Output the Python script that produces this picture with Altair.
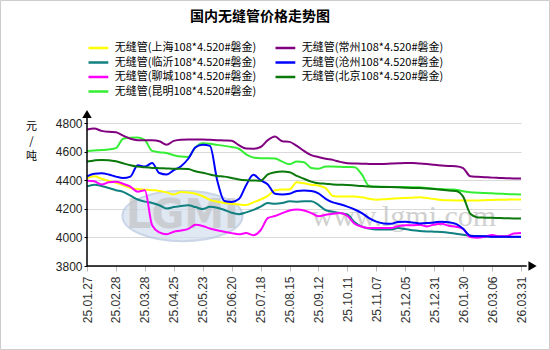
import altair as alt
import pandas as pd

# ---------------- data ----------------
tick_labels = ["25.01.27", "25.02.28", "25.03.28", "25.04.25", "25.05.23", "25.06.20",
               "25.07.18", "25.08.15", "25.09.12", "25.10.11", "25.11.07", "25.12.05",
               "25.12.31", "26.01.30", "26.03.06", "26.03.31"]

series_names = ["无缝管(上海108*4.520#磐金)", "无缝管(临沂108*4.520#磐金)",
                "无缝管(聊城108*4.520#磐金)", "无缝管(昆明108*4.520#磐金)",
                "无缝管(常州108*4.520#磐金)", "无缝管(沧州108*4.520#磐金)",
                "无缝管(北京108*4.520#磐金)"]
series_colors = ["#ffff00", "#108080", "#ff00ff", "#33ee33", "#800080", "#0000ff", "#0a780a"]

shanghai = [4415, 4427, 4410, 4395, 4382, 4365, 4345, 4338, 4334, 4330,
            4325, 4315, 4300, 4318, 4314, 4305, 4288, 4262, 4250, 4240,
            4235, 4230, 4226, 4245, 4265, 4290, 4330, 4335, 4335, 4385,
            4378, 4368, 4362, 4345, 4290, 4286, 4286, 4286, 4280, 4270,
            4264, 4266, 4270, 4274, 4276, 4278, 4280, 4275, 4268, 4262,
            4259, 4258, 4258, 4258, 4258, 4260, 4262, 4263, 4264, 4265, 4265]
linyi = [4357, 4368, 4360, 4345, 4330, 4318, 4292, 4265, 4250, 4241,
         4225, 4202, 4212, 4220, 4224, 4212, 4198, 4215, 4208, 4192,
         4172, 4162, 4175, 4192, 4215, 4240, 4235, 4240, 4252, 4250,
         4252, 4252, 4228, 4190, 4180, 4170, 4160, 4105, 4075, 4062,
         4056, 4056, 4056, 4065, 4058, 4050, 4045, 4042, 4040, 4038,
         4033, 4025, 4018, 4012, 4010, 4008, 4006, 4005, 4004, 4003, 4003]
liaocheng = [4397, 4392, 4370, 4385, 4390, 4375, 4355, 4320, 4330, 4085,
             4035, 4022, 4040, 4048, 4060, 4088, 4080, 4062, 4050, 4040,
             4030, 4022, 4030, 4015, 4050, 4135, 4150, 4170, 4188, 4195,
             4188, 4170, 4148, 4158, 4165, 4170, 4150, 4095, 4075, 4066,
             4065, 4065, 4065, 4078, 4085, 4085, 4088, 4077, 4090, 4095,
             4082, 4075, 4060, 4002, 3998, 4005, 4016, 4008, 4008, 4028, 4030]
kunming = [4605, 4608, 4611, 4615, 4624, 4690, 4697, 4698, 4680, 4605,
           4596, 4590, 4575, 4565, 4562, 4630, 4659, 4655, 4647, 4640,
           4632, 4620, 4580, 4558, 4554, 4554, 4552, 4530, 4512, 4530,
           4525, 4485, 4480, 4495, 4496, 4494, 4492, 4490, 4440, 4360,
           4355, 4354, 4353, 4352, 4352, 4351, 4350, 4345, 4340, 4338,
           4335, 4334, 4322, 4316, 4313, 4310, 4308, 4306, 4303, 4301, 4300]
changzhou = [4755, 4762, 4745, 4738, 4735, 4712, 4690, 4680, 4680, 4679,
             4672, 4648, 4675, 4683, 4684, 4684, 4684, 4682, 4680, 4678,
             4676, 4645, 4621, 4620, 4632, 4680, 4705, 4672, 4668, 4640,
             4605, 4575, 4562, 4550, 4542, 4528, 4519, 4517, 4515, 4514,
             4513, 4514, 4516, 4518, 4520, 4520, 4516, 4514, 4508, 4503,
             4500, 4498, 4485, 4427, 4424, 4421, 4418, 4416, 4414, 4412, 4411]
cangzhou = [4427, 4445, 4448, 4440, 4425, 4415, 4425, 4505, 4495, 4520,
            4450, 4440, 4470, 4498, 4550, 4630, 4648, 4640, 4400, 4255,
            4248, 4268, 4365, 4438, 4400, 4370, 4305, 4300, 4305, 4325,
            4328, 4325, 4308, 4270, 4245, 4232, 4215, 4195, 4170, 4135,
            4110, 4098, 4095, 4108, 4110, 4105, 4098, 4100, 4105, 4110,
            4106, 4095, 4060, 4012, 4008, 4008, 4005, 4005, 4005, 4005, 4005]
beijing = [4531, 4538, 4542, 4540, 4532, 4518, 4505, 4495, 4490, 4486,
           4484, 4482, 4480, 4480, 4478, 4462, 4452, 4440, 4430, 4425,
           4415, 4405, 4400, 4398, 4396, 4440, 4455, 4460, 4455, 4430,
           4410, 4390, 4378, 4375, 4370, 4368, 4366, 4363, 4360, 4356,
           4354, 4353, 4352, 4350, 4348, 4346, 4345, 4342, 4338, 4333,
           4328, 4325, 4285, 4165, 4140, 4138, 4137, 4135, 4134, 4133, 4133]

all_series = [shanghai, linyi, liaocheng, kunming, changzhou, cangzhou, beijing]

rows = []
for name, vals in zip(series_names, all_series):
    for i, v in enumerate(vals):
        rows.append({"idx": i, "price": v, "name": name})
df = pd.DataFrame(rows)

y_ticks = [3800, 4000, 4200, 4400, 4600, 4800]
x_ticks = list(range(0, 61, 4))
label_expr = "[" + ",".join("'%s'" % t for t in tick_labels) + "][round(datum.value/4)]"

FONT = "Liberation Sans"
CJK = "Noto Sans CJK SC"

xs = alt.Scale(domain=[0, 60], nice=False, zero=False)
ys = alt.Scale(domain=[3800, 4800], nice=False, zero=False)

x_axis = alt.Axis(values=x_ticks, tickCount=len(x_ticks), labelExpr=label_expr, labelAngle=270,
                  labelFontSize=12, labelColor="#333333",
                  labelPadding=5, tickSize=5, tickColor="#bbbbbb",
                  grid=False, title=None)
y_axis = alt.Axis(values=y_ticks, tickCount=len(y_ticks), format="d", labelFontSize=12,
                  labelColor="#222222", labelPadding=2, tickSize=3,
                  tickColor="#000000", grid=True,
                  gridColor="#d9d9d9", title=["元", "/", "吨"],
                  titleAngle=0, titleFont=CJK, titleFontSize=11,
                  titleFontWeight="normal", titleColor="#000000",
                  titleX=-56, titleY=-3, titleAlign="center",
                  titleBaseline="top", titleLineHeight=15)

# watermark
logo = alt.Chart(pd.DataFrame({"idx": [13.2], "price": [4150]})).mark_point(
    shape="M-1,0A1,0.42,0,1,1,1,0A1,0.42,0,1,1,-1,0Z", size=14400,
    filled=True, fill="#d3dfee", stroke="#b4c6de", strokeWidth=2, opacity=0.7
).encode(x=alt.X("idx:Q", scale=xs, axis=x_axis), y=alt.Y("price:Q", scale=ys, axis=y_axis))
logo_text = alt.Chart(pd.DataFrame({"t": ["LGMI"], "idx": [13.2], "price": [4150]})).mark_text(
    font="DejaVu Sans", fontSize=40, fontWeight="bold", color="#bdbdbd", opacity=0.6
).encode(x=alt.X("idx:Q", scale=xs), y=alt.Y("price:Q", scale=ys), text="t:N")
site_text = alt.Chart(pd.DataFrame({"t": ["www.lgmi.com"], "idx": [43.8], "price": [4140]})).mark_text(
    font="Liberation Serif", fontSize=30, color="#cccccc", opacity=0.9
).encode(x=alt.X("idx:Q", scale=xs), y=alt.Y("price:Q", scale=ys), text="t:N")

lines = alt.Chart(df).mark_line(strokeWidth=2, interpolate="monotone").encode(
    x=alt.X("idx:Q", scale=xs),
    y=alt.Y("price:Q", scale=ys),
    color=alt.Color("name:N", scale=alt.Scale(domain=series_names, range=series_colors),
                    legend=alt.Legend(title=None, orient="none", legendX=4.4, legendY=-82,
                                      columns=2, columnPadding=14, rowPadding=2.5,
                                      symbolType="M-1.8,0L1.8,0", symbolSize=121,
                                      symbolStrokeWidth=2.5, labelFont=CJK,
                                      labelFontSize=11, labelColor="#000000",
                                      labelOffset=9.4, labelLimit=220)),
    order=alt.Order("idx:Q"),
)

# axis lines with arrows
yline = alt.Chart(pd.DataFrame({"idx": [0], "price": [3800], "p2": [4835]})).mark_rule(
    color="black", strokeWidth=1.5
).encode(x=alt.X("idx:Q", scale=xs), y=alt.Y("price:Q", scale=ys), y2="p2:Q")
xline = alt.Chart(pd.DataFrame({"idx": [0], "i2": [60.8], "price": [3800]})).mark_rule(
    color="black", strokeWidth=1.5
).encode(x=alt.X("idx:Q", scale=xs), x2="i2:Q", y=alt.Y("price:Q", scale=ys))
yarrow = alt.Chart(pd.DataFrame({"idx": [0], "price": [4863]})).mark_point(
    shape="triangle-up", size=90, filled=True, color="black", opacity=1
).encode(x=alt.X("idx:Q", scale=xs), y=alt.Y("price:Q", scale=ys))
xarrow = alt.Chart(pd.DataFrame({"idx": [61.6], "price": [3800]})).mark_point(
    shape="triangle-right", size=90, filled=True, color="black", opacity=1
).encode(x=alt.X("idx:Q", scale=xs), y=alt.Y("price:Q", scale=ys))

title = alt.Chart(pd.DataFrame({"t": ["国内无缝管价格走势图"]})).mark_text(
    font=CJK, fontSize=14, fontWeight="bold", color="#000000", align="center", baseline="middle"
).encode(x=alt.value(173), y=alt.value(-106), text="t:N")

border = alt.Chart(pd.DataFrame({"a": [0]})).mark_rect(
    filled=False, stroke="#cccccc", strokeWidth=1
).encode(x=alt.value(-86.5), x2=alt.value(462.5), y=alt.value(-122.5), y2=alt.value(226.5))

chart = alt.layer(
    logo, border, logo_text, site_text, lines, yline, xline, yarrow, xarrow, title
).properties(
    width=434, height=143,
    autosize=alt.AutoSizeParams(type="none"),
    padding={"left": 87, "top": 123, "right": 29, "bottom": 84},
    background="white",
).configure_view(stroke=None).configure_axis(
    labelOverlap=False, labelFlush=False, domain=False, labelFont=FONT
)

chart.save("out.html", embed_options={"renderer": "svg", "actions": False})
